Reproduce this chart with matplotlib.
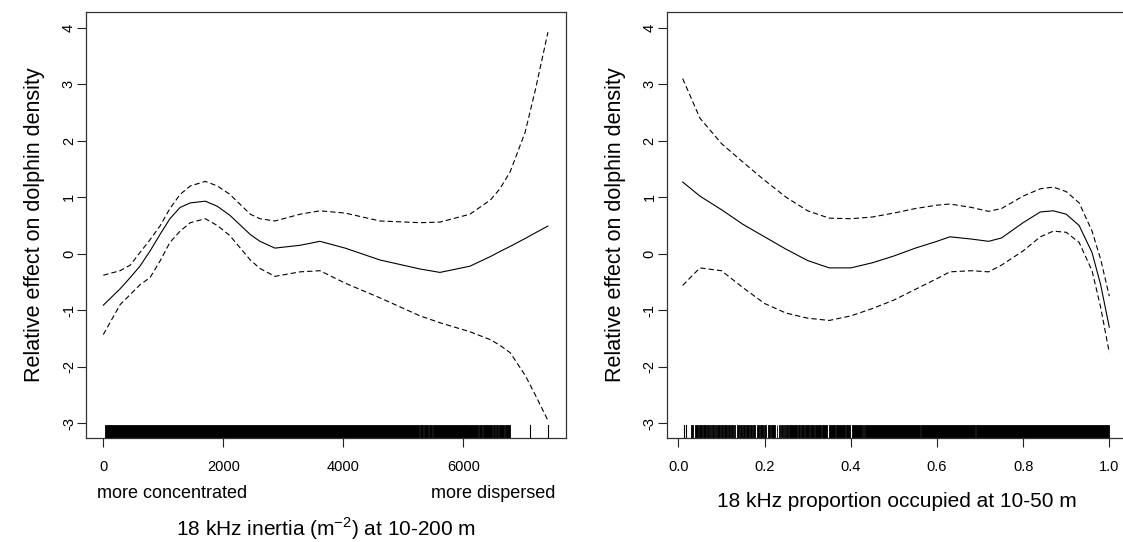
import matplotlib
matplotlib.use("Agg")
import matplotlib.pyplot as plt
import numpy as np

plt.rcParams['font.family'] = ['Liberation Sans', 'DejaVu Sans']
plt.rcParams['lines.scale_dashes'] = False
plt.rcParams['mathtext.fontset'] = 'custom'
plt.rcParams['mathtext.rm'] = 'Liberation Sans'

# ---- Left panel: 18 kHz inertia ----
inertia_x = [0, 280, 450, 610, 780, 950, 1110, 1280, 1450, 1700, 1900, 2110, 2450,
             2610, 2860, 3280, 3610, 4030, 4610, 5280, 5610, 6110, 6450, 6610, 6780, 7030, 7200, 7410]
inertia_fit = [-0.91, -0.62, -0.42, -0.22, 0.05, 0.35, 0.62, 0.82, 0.90, 0.93, 0.84, 0.68,
               0.34, 0.22, 0.10, 0.15, 0.22, 0.10, -0.11, -0.27, -0.33, -0.22, -0.05, 0.04, 0.13, 0.27, 0.37, 0.49]
inertia_upper = [-0.38, -0.30, -0.20, 0.02, 0.25, 0.50, 0.80, 1.05, 1.20, 1.28, 1.20, 1.05,
                 0.70, 0.62, 0.58, 0.70, 0.76, 0.72, 0.58, 0.55, 0.56, 0.70, 0.95, 1.15, 1.45, 2.15, 2.90, 3.92]
inertia_lower = [-1.43, -0.90, -0.72, -0.55, -0.42, -0.12, 0.20, 0.40, 0.55, 0.62, 0.50, 0.32,
                 -0.11, -0.26, -0.40, -0.32, -0.30, -0.52, -0.78, -1.10, -1.22, -1.38, -1.52, -1.62, -1.75, -2.15, -2.50, -2.95]
inertia_rug_blocks = [(30, 5260), (5275, 5325), (5342, 5410), (5425, 5482), (5497, 5770),
                      (5786, 6003), (6019, 6243), (6258, 6310), (6325, 6370), (6386, 6476),
                      (6491, 6520), (6536, 6576), (6591, 6676), (6691, 6780)]
inertia_rug_lines = [7112, 7417]
inertia_xticks = [0, 2000, 4000, 6000]

# ---- Right panel: 18 kHz proportion occupied ----
prop_x = [0.01, 0.05, 0.10, 0.15, 0.20, 0.25, 0.30, 0.35, 0.40, 0.45, 0.50, 0.55, 0.60,
          0.63, 0.68, 0.72, 0.75, 0.80, 0.84, 0.87, 0.90, 0.93, 0.96, 0.98, 1.00]
prop_fit = [1.27, 1.02, 0.78, 0.52, 0.30, 0.08, -0.12, -0.25, -0.25, -0.16, -0.04, 0.10, 0.22,
            0.30, 0.26, 0.22, 0.28, 0.55, 0.74, 0.76, 0.70, 0.50, 0.02, -0.55, -1.30]
prop_upper = [3.10, 2.40, 1.95, 1.62, 1.30, 1.00, 0.76, 0.63, 0.62, 0.65, 0.72, 0.80, 0.86,
              0.88, 0.82, 0.75, 0.80, 1.02, 1.15, 1.18, 1.10, 0.90, 0.40, -0.10, -0.75]
prop_lower = [-0.56, -0.25, -0.30, -0.60, -0.88, -1.05, -1.14, -1.18, -1.10, -0.97, -0.82, -0.63, -0.44,
              -0.32, -0.30, -0.32, -0.20, 0.05, 0.30, 0.40, 0.38, 0.20, -0.30, -0.95, -1.75]
prop_rug_blocks = [(0.029, 0.035), (0.038, 0.045), (0.048, 0.054), (0.057, 0.063), (0.066, 0.070),
                   (0.073, 0.076), (0.079, 0.082), (0.084, 0.087), (0.089, 0.097), (0.100, 0.104),
                   (0.107, 0.112), (0.115, 0.119), (0.122, 0.126), (0.129, 0.132), (0.135, 0.140),
                   (0.143, 0.147), (0.150, 0.155), (0.158, 0.163), (0.166, 0.170), (0.173, 0.179),
                   (0.182, 0.186), (0.189, 0.196), (0.199, 0.204), (0.207, 0.213), (0.216, 0.225),
                   (0.228, 0.230), (0.233, 0.235), (0.238, 0.243), (0.246, 0.247), (0.250, 0.254),
                   (0.257, 0.275), (0.278, 0.282), (0.285, 0.292), (0.295, 0.303), (0.306, 0.314),
                   (0.317, 0.331), (0.334, 0.346), (0.349, 0.363), (0.366, 0.386), (0.389, 0.399),
                   (0.402, 0.426), (0.429, 0.431), (0.434, 0.561), (0.564, 0.688), (0.691, 1.000)]
prop_rug_lines = [0.013, 0.018]
prop_xticks = [0.0, 0.2, 0.4, 0.6, 0.8, 1.0]
prop_xticklabels = ['0.0', '0.2', '0.4', '0.6', '0.8', '1.0']

yticks = [-3, -2, -1, 0, 1, 2, 3, 4]
ylim = (-3.255, 4.278)
ylabel = 'Relative effect on dolphin density'

fig = plt.figure(figsize=(11.23, 5.42), dpi=100)
axL = fig.add_axes([0.0766, 0.1924, 0.4272, 0.7855])
axR = fig.add_axes([0.5937, 0.1924, 0.4106, 0.7855])

dash = (0, (3.8, 2.2))
LW = 0.8


def style(ax):
    ax.set_ylim(*ylim)
    ax.set_yticks(yticks)
    ax.set_yticklabels([str(v) for v in yticks], rotation=90, va='center')
    ax.tick_params(axis='both', direction='out', length=6.8, width=0.8, labelsize=10.5,
                   colors='#222222', labelcolor='black')
    ax.tick_params(axis='y', pad=0.5)
    ax.tick_params(axis='x', pad=9)
    for s in ax.spines.values():
        s.set_linewidth(0.9)
        s.set_color('#333333')
    ax.set_ylabel(ylabel, fontsize=15.5, labelpad=12)


def rug(ax, blocks, lines):
    tr = ax.get_xaxis_transform()
    for a, b in blocks:
        ax.fill_between([a, b], [0, 0], [0.03, 0.03], transform=tr, color='black', lw=0.6,
                        edgecolor='black')
    for v in lines:
        ax.plot([v, v], [0, 0.03], transform=tr, color='black', lw=0.8)


# Left
axL.plot(inertia_x, inertia_fit, color='black', lw=LW)
axL.plot(inertia_x, inertia_upper, color='black', lw=LW, linestyle=dash)
axL.plot(inertia_x, inertia_lower, color='black', lw=LW, linestyle=dash)
rug(axL, inertia_rug_blocks, inertia_rug_lines)
axL.set_xlim(-288, 7707)
axL.set_xticks(inertia_xticks)
style(axL)
axL.set_xlabel('18 kHz inertia (m$^{-2}$) at 10-200 m', fontsize=15, labelpad=30)
axL.text(0.022, -0.132, 'more concentrated', transform=axL.transAxes, fontsize=13,
         ha='left', va='center')
axL.text(0.978, -0.132, 'more dispersed', transform=axL.transAxes, fontsize=13,
         ha='right', va='center')

# Right
axR.plot(prop_x, prop_fit, color='black', lw=LW)
axR.plot(prop_x, prop_upper, color='black', lw=LW, linestyle=dash)
axR.plot(prop_x, prop_lower, color='black', lw=LW, linestyle=dash)
rug(axR, prop_rug_blocks, prop_rug_lines)
axR.set_xlim(-0.027, 1.043)
axR.set_xticks(prop_xticks)
axR.set_xticklabels(prop_xticklabels)
style(axR)
axR.set_xlabel('18 kHz proportion occupied at 10-50 m', fontsize=15, labelpad=13)

fig.savefig('out.png', dpi=100)
